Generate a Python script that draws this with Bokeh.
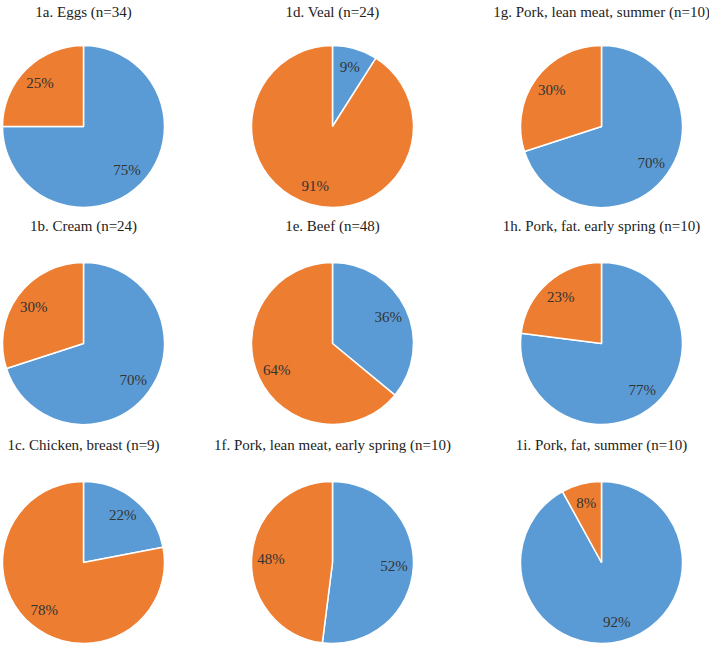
import math
from bokeh.plotting import figure
from bokeh.models import Range1d, ColumnDataSource
from bokeh.core.properties import value
from bokeh.embed import file_html
from bokeh.resources import INLINE

# ---- data ----
titles = [
    "1a. Eggs (n=34)", "1b. Cream (n=24)", "1c. Chicken, breast (n=9)",
    "1d. Veal (n=24)", "1e. Beef (n=48)", "1f. Pork, lean meat, early spring (n=10)",
    "1g. Pork, lean meat, summer (n=10)", "1h. Pork, fat. early spring (n=10)",
    "1i. Pork, fat, summer (n=10)",
]
blue_pct = [75, 70, 22, 9, 36, 52, 70, 77, 92]
orange_pct = [25, 30, 78, 91, 64, 48, 30, 23, 8]

# ---- layout (pixels of the 709x645 page) ----
W, H = 709, 645
col_x = [83, 332, 601]
title_y = [11, 225, 444]
pie_y = [126, 343, 562]
R = 81
BLUE = "#5B9BD5"
ORANGE = "#ED7D31"
FONT = value("Liberation Serif")

p = figure(width=W, height=H, output_backend="svg", toolbar_location=None,
           x_range=Range1d(0, W), y_range=Range1d(0, H), min_border=0)
p.axis.visible = False
p.grid.visible = False
p.outline_line_color = None
p.background_fill_color = "white"

wx, wy, ws, we, wc = [], [], [], [], []
lx, ly, lt = [], [], []
tx, ty, tt = [], [], []
for i, (t, b, o) in enumerate(zip(titles, blue_pct, orange_pct)):
    c, r = divmod(i, 3)
    cx, cy = col_x[c], H - pie_y[r]
    tot = b + o
    a0 = math.pi / 2
    a1 = a0 - 2 * math.pi * b / tot
    a2 = a0 - 2 * math.pi
    for s, e, col, v in ((a0, a1, BLUE, b), (a1, a2, ORANGE, o)):
        wx.append(cx); wy.append(cy); ws.append(s); we.append(e); wc.append(col)
        mid = (s + e) / 2
        lx.append(cx + 0.76 * R * math.cos(mid))
        ly.append(cy + 0.76 * R * math.sin(mid))
        lt.append(f"{v}%")
    tx.append(col_x[c]); ty.append(H - title_y[r]); tt.append(t)

p.wedge(x="x", y="y", radius=R, start_angle="s", end_angle="e", direction="clock",
        fill_color="c", line_color="white", line_width=1.5,
        source=ColumnDataSource(dict(x=wx, y=wy, s=ws, e=we, c=wc)))
p.text(x=lx, y=ly, text=lt, text_align="center", text_baseline="middle",
       text_font=FONT, text_font_size="15px", text_color="#333333")
p.text(x=tx, y=ty, text=tt, text_align="center", text_baseline="middle",
       text_font=FONT, text_font_size="15px", text_color="#222222")

open("out.html", "w").write(file_html(p, INLINE))
